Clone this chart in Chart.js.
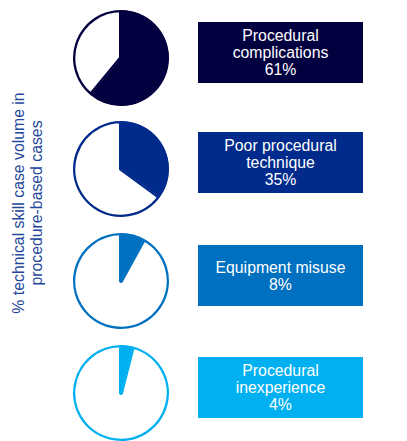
<!DOCTYPE html>
<html>
<head>
<meta charset="utf-8">
<script src="https://cdn.jsdelivr.net/npm/chart.js@4/dist/chart.umd.min.js"></script>
<style>
  html, body { margin: 0; padding: 0; background: #ffffff; width: 407px; height: 441px; overflow: hidden; }
  .pie { position: absolute; left: 71px; width: 100px; height: 100px; }
  .box { position: absolute; left: 198px; width: 165px; height: 61px; display: flex; flex-direction: column;
         justify-content: center; align-items: center; color: #ffffff; font-family: "Liberation Sans", Arial, sans-serif;
         font-size: 15.8px; line-height: 17px; text-align: center; }
  #ytitle { position: absolute; width: 300px; left: -122px; top: 185px; height: 36px; transform: rotate(-90deg);
            transform-origin: 150px 18px; text-align: center; font-family: "Liberation Sans", Arial, sans-serif;
            font-size: 15.8px; line-height: 18px; color: #24479a; }
</style>
</head>
<body>
<div id="ytitle">% technical skill case volume in<br>procedure-based cases</div>
<script>
const categories = ['Procedural complications', 'Poor procedural technique', 'Equipment misuse', 'Procedural inexperience'];
const labelLines = [['Procedural', 'complications'], ['Poor procedural', 'technique'], ['Equipment misuse'], ['Procedural', 'inexperience']];
const values = [61, 35, 8, 4];
const colors = ['#03003f', '#002b8c', '#0070c0', '#00b0f0'];

const pieTops = [8, 119, 231, 343];
const boxTops = [22, 132, 245, 357];

categories.forEach((cat, i) => {
  const c = document.createElement('canvas');
  c.className = 'pie';
  c.width = 100; c.height = 100;
  c.style.top = pieTops[i] + 'px';
  document.body.appendChild(c);
  new Chart(c, {
    type: 'pie',
    data: {
      labels: [cat, 'Other'],
      datasets: [{
        data: [values[i], 100 - values[i]],
        backgroundColor: [colors[i], '#ffffff'],
        borderColor: colors[i],
        borderWidth: 2,
        borderAlign: 'inner'
      }]
    },
    options: {
      responsive: false,
      animation: false,
      radius: 48,
      layout: { padding: 0 },
      plugins: { legend: { display: false }, tooltip: { enabled: false } }
    }
  });

  const b = document.createElement('div');
  b.className = 'box';
  b.style.top = boxTops[i] + 'px';
  b.style.background = colors[i];
  labelLines[i].concat([values[i] + '%']).forEach(t => {
    const s = document.createElement('div');
    s.textContent = t;
    b.appendChild(s);
  });
  document.body.appendChild(b);
});
</script>
</body>
</html>
